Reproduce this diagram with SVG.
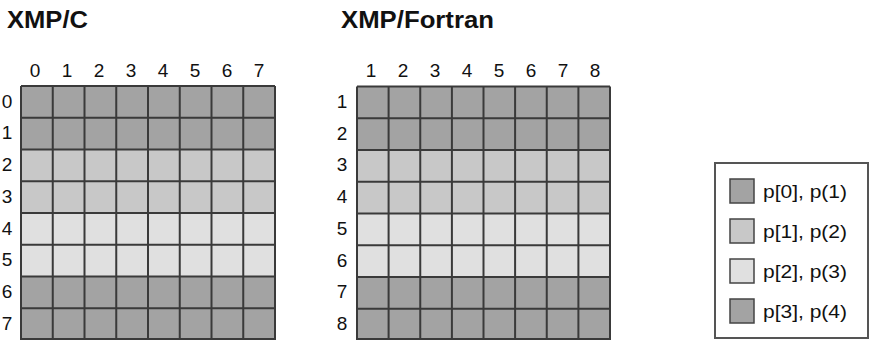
<svg xmlns="http://www.w3.org/2000/svg" width="873" height="340" viewBox="0 0 873 340">
<style>
.t{font-family:"Liberation Sans",Arial,sans-serif;font-weight:bold;font-size:24px;fill:#111}
.l{font-family:"Liberation Sans",Arial,sans-serif;font-size:19px;fill:#111;text-anchor:middle}
.g{font-family:"Liberation Sans",Arial,sans-serif;font-size:18px;fill:#111}
.d{fill:#a3a3a3}.m{fill:#c8c8c8}.p{fill:#e0e0e0}
.gl{stroke:#3a3a3a;stroke-width:2;fill:none}
.sw{stroke:#444;stroke-width:1.5}
</style>
<rect width="873" height="340" fill="#fff"/>
<g id="title-c"><text class="t" x="7" y="28" textLength="81" lengthAdjust="spacingAndGlyphs">XMP/C</text></g>
<g id="title-f"><text class="t" x="341" y="28" textLength="153" lengthAdjust="spacingAndGlyphs">XMP/Fortran</text></g>

<g id="grid-c">
<rect class="d" x="21" y="86" width="254" height="63.5"/>
<rect class="m" x="21" y="149.5" width="254" height="63.5"/>
<rect class="p" x="21" y="213" width="254" height="63.5"/>
<rect class="d" x="21" y="276.5" width="254" height="63.5"/>
<path class="gl" d="M21 86V340M52.75 86V340M84.5 86V340M116.25 86V340M148 86V340M179.75 86V340M211.5 86V340M243.25 86V340M275 86V340M21 86H275M21 117.75H275M21 149.5H275M21 181.25H275M21 213H275M21 244.75H275M21 276.5H275M21 308.25H275M21 339H275"/>
<g class="l">
<text x="35" y="77">0</text><text x="67" y="77">1</text><text x="99" y="77">2</text><text x="131" y="77">3</text><text x="163" y="77">4</text><text x="195" y="77">5</text><text x="227" y="77">6</text><text x="259" y="77">7</text>
<text x="7" y="108">0</text><text x="7" y="139">1</text><text x="7" y="171">2</text><text x="7" y="203">3</text><text x="7" y="235">4</text><text x="7" y="266">5</text><text x="7" y="298">6</text><text x="7" y="330">7</text>
</g>
</g>

<g id="grid-f">
<rect class="d" x="357" y="86.5" width="253" height="63.5"/>
<rect class="m" x="357" y="150" width="253" height="63.5"/>
<rect class="p" x="357" y="213.5" width="253" height="63.5"/>
<rect class="d" x="357" y="277" width="253" height="63"/>
<path class="gl" d="M357 86.5V340M388.6 86.5V340M420.25 86.5V340M451.9 86.5V340M483.5 86.5V340M515.1 86.5V340M546.75 86.5V340M578.4 86.5V340M610 86.5V340M357 86.5H610M357 118.25H610M357 150H610M357 181.75H610M357 213.5H610M357 245.25H610M357 277H610M357 308.75H610M357 339H610"/>
<g class="l">
<text x="371" y="77">1</text><text x="403" y="77">2</text><text x="435" y="77">3</text><text x="467" y="77">4</text><text x="499" y="77">5</text><text x="531" y="77">6</text><text x="563" y="77">7</text><text x="595" y="77">8</text>
<text x="342" y="108">1</text><text x="342" y="140">2</text><text x="342" y="171">3</text><text x="342" y="203">4</text><text x="342" y="235">5</text><text x="342" y="267">6</text><text x="342" y="298">7</text><text x="342" y="330">8</text>
</g>
</g>

<g id="legend">
<rect x="715" y="163" width="153" height="175" fill="#fff" stroke="#555" stroke-width="2"/>
<rect class="sw d" x="730" y="179" width="24" height="24"/>
<rect class="sw m" x="730" y="219" width="24" height="24"/>
<rect class="sw p" x="730" y="259" width="24" height="24"/>
<rect class="sw d" x="730" y="299" width="24" height="24"/>
<text class="g" x="763" y="198" textLength="84" lengthAdjust="spacingAndGlyphs">p[0], p(1)</text>
<text class="g" x="763" y="238" textLength="84" lengthAdjust="spacingAndGlyphs">p[1], p(2)</text>
<text class="g" x="763" y="278" textLength="84" lengthAdjust="spacingAndGlyphs">p[2], p(3)</text>
<text class="g" x="763" y="318" textLength="84" lengthAdjust="spacingAndGlyphs">p[3], p(4)</text>
</g>
</svg>
